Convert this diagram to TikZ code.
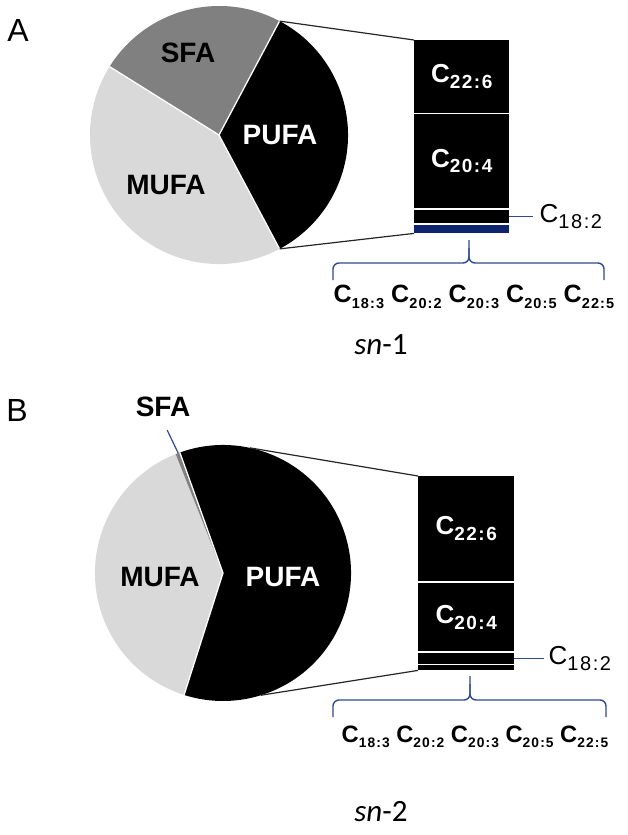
\documentclass[tikz,border=0pt]{standalone}
\usepackage{fontspec}
\setmainfont{Liberation Sans}
\newfontfamily\calibfont{Carlito}
\definecolor{navy}{RGB}{47,75,140}
\definecolor{darknavy}{RGB}{14,36,110}
\definecolor{sfagray}{RGB}{128,128,128}
\definecolor{mufagray}{RGB}{217,217,217}
\newcommand\FAsub[2]{C\raisebox{-0.22em}{\fontsize{#1}{#1}\selectfont\addfontfeature{LetterSpace=8}#2}}
\begin{document}
\begin{tikzpicture}[x=1pt,y=-1pt,
  conn/.style={draw=black!85, line width=1.2pt},
  bracel/.style={draw=navy, line width=1.4pt, rounded corners=6pt},
  lead/.style={draw=navy, line width=1.2pt},
  pielab/.style={font=\fontsize{28}{30}\selectfont\bfseries, inner sep=0pt},
  barseg/.style={fill=black, anchor=north west, inner sep=0pt, text=white, font=\fontsize{26}{27}\selectfont\bfseries},
  panel/.style={font=\fontsize{32}{34}\selectfont, inner sep=0pt},
  snlab/.style={font=\fontsize{31}{32}\selectfont\calibfont, inner sep=0pt},
  rowlab/.style={inner sep=0pt},
  c18/.style={font=\fontsize{26}{27}\selectfont, inner sep=0pt, anchor=west},
]
\useasboundingbox (0,0) rectangle (628,835);
\node[panel] (lA) at (18,30) {A};
\node[panel] (lB) at (17,410) {B};

% ---------- Pie A ----------
\coordinate (pa) at (219,135);
\fill[mufagray] (pa) -- ++(62:129) arc[start angle=62,end angle=212,radius=129] -- cycle;
\fill[sfagray] (pa) -- ++(-148:129) arc[start angle=-148,end angle=-62,radius=129] -- cycle;
\fill[black] (pa) -- ++(-62:129) arc[start angle=-62,end angle=62,radius=129] -- cycle;
\foreach \a in {-62,62,-148} \draw[white, line width=1.3pt] (pa) -- ++(\a:129);
\path (pa) ++(-62:129) coordinate (paT);
\path (pa) ++(62:129) coordinate (paB);
\node[pielab] (sfaA) at (188,53) {SFA};
\node[pielab, text=white] (pufaA) at (280,135) {PUFA};
\node[pielab] (mufaA) at (166,185) {MUFA};

% ---------- Bar A ----------
\node[barseg, minimum width=95pt, minimum height=72.5pt] (a226) at (414,40) {\FAsub{19}{22:6}};
\node[barseg, minimum width=95pt, minimum height=93.5pt] (a204) at (414,114) {\FAsub{19}{20:4}};
\node[barseg, minimum width=95pt, minimum height=13pt] (a182) at (414,209.5) {};
\node[barseg, fill=darknavy, minimum width=95pt, minimum height=8.5pt] (aoth) at (414,224.5) {};
\draw[conn] (paT) -- (a226.north west);
\draw[conn] (paB) -- (aoth.south west);
\draw[lead] (a182.east) -- ++(24,0) coordinate (laA);
\node[c18] (c18A) at ([xshift=6pt]laA) {\FAsub{20}{18:2}};
% brace A
\coordinate (brA) at (469,263);
\draw[bracel] (333,280) -- (333,263) -- (brA) -- (469,240);
\draw[bracel] (469,248) -- (brA) -- (604,263) -- (604,280);
\node[rowlab, font=\fontsize{25}{26}\selectfont\bfseries] (rowA) at (474,297)
  {\FAsub{14.5}{18:3} \FAsub{14.5}{20:2} \FAsub{14.5}{20:3} \FAsub{14.5}{20:5} \FAsub{14.5}{22:5}};
\node[snlab] (sn1) at (381,345) {\textit{sn}-1};

% ---------- Pie B ----------
\coordinate (pb) at (223,573);
\fill[mufagray] (pb) -- ++(107.7:128) arc[start angle=107.7,end angle=248.3,radius=128] -- cycle;
\fill[sfagray] (pb) -- ++(248.3:128) arc[start angle=248.3,end angle=250.3,radius=128] -- cycle;
\fill[black] (pb) -- ++(-109.7:128) arc[start angle=-109.7,end angle=107.7,radius=128] -- cycle;
\foreach \a in {-109.7,107.7} \draw[white, line width=1.3pt] (pb) -- ++(\a:128);
\path (pb) ++(-77.9:128) coordinate (pbT);
\path (pb) ++(72.7:128) coordinate (pbB);
\path (pb) ++(-110.5:128) coordinate (sfapt);
\node[pielab] (sfaB) at (163,407) {SFA};
\node[pielab, text=white] (pufaB) at (283,577) {PUFA};
\node[pielab] (mufaB) at (160,577) {MUFA};
\draw[lead] (sfapt) -- ++(-11,-23);

% ---------- Bar B ----------
\node[barseg, minimum width=96pt, minimum height=105pt] (b226) at (418,476) {\FAsub{19}{22:6}};
\node[barseg, minimum width=96pt, minimum height=68pt] (b204) at (418,583) {\FAsub{19}{20:4}};
\node[barseg, minimum width=96pt, minimum height=10.5pt] (b182) at (418,653) {};
\node[barseg, minimum width=96pt, minimum height=5pt] (both) at (418,665) {};
\draw[conn] (pbT) -- (b226.north west);
\draw[conn] (pbB) -- (both.south west);
\draw[lead] (b182.east) -- ++(30,0) coordinate (laB);
\node[c18] (c18B) at ([xshift=4pt]laB) {\FAsub{20}{18:2}};
% brace B
\coordinate (brB) at (470,700);
\draw[bracel] (333,717) -- (333,700) -- (brB) -- (470,676);
\draw[bracel] (470,684) -- (brB) -- (606,700) -- (606,717);
\node[rowlab, font=\fontsize{23.7}{25}\selectfont\bfseries] (rowB) at (475,737)
  {\FAsub{13.8}{18:3} \FAsub{13.8}{20:2} \FAsub{13.8}{20:3} \FAsub{13.8}{20:5} \FAsub{13.8}{22:5}};
\node[snlab] (sn2) at (381,812) {\textit{sn}-2};
\end{tikzpicture}
\end{document}
